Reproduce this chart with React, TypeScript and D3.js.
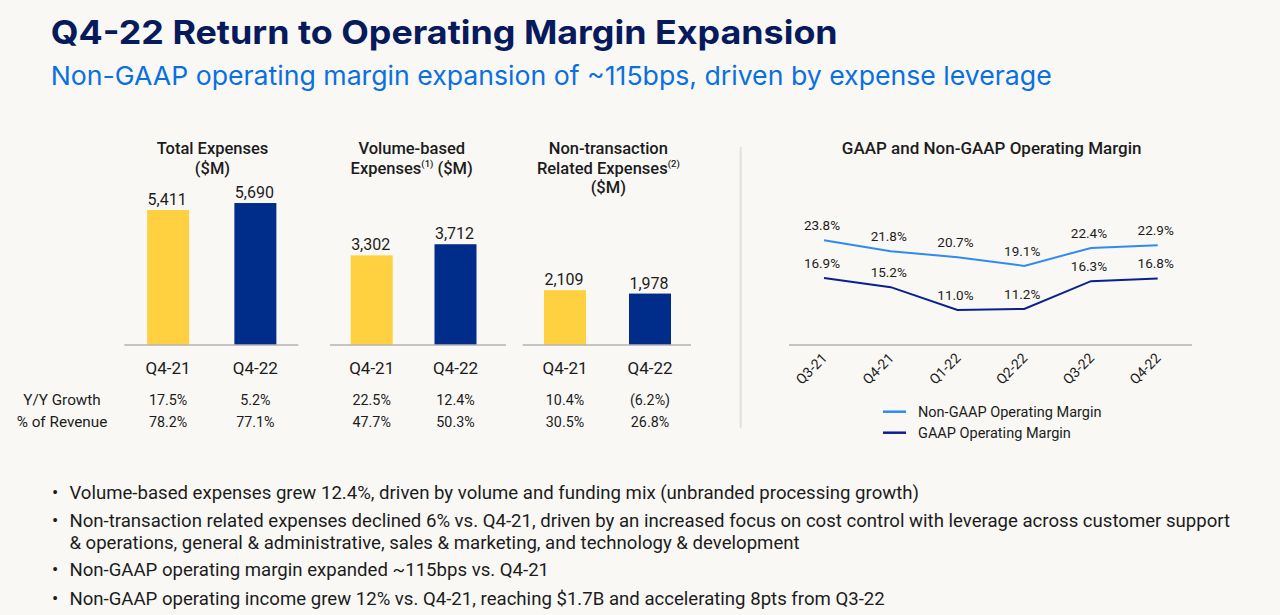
import React from "react";
import * as d3 from "d3";

// ---------- DATA ----------
const barCategories = ["Q4-21", "Q4-22"];
const totalExpenses = [5411, 5690];
const volumeExpenses = [3302, 3712];
const nonTxnExpenses = [2109, 1978];
const totalYoY = ["17.5%", "5.2%"];
const totalPctRev = ["78.2%", "77.1%"];
const volumeYoY = ["22.5%", "12.4%"];
const volumePctRev = ["47.7%", "50.3%"];
const nonTxnYoY = ["10.4%", "(6.2%)"];
const nonTxnPctRev = ["30.5%", "26.8%"];
const rowLabels = ["Y/Y Growth", "% of Revenue"];

const quarters = ["Q3-21", "Q4-21", "Q1-22", "Q2-22", "Q3-22", "Q4-22"];
const nonGaapMargin = [23.8, 21.8, 20.7, 19.1, 22.4, 22.9];
const gaapMargin = [16.9, 15.2, 11.0, 11.2, 16.3, 16.8];
const legendLabels = ["Non-GAAP Operating Margin", "GAAP Operating Margin"];

const titleText = "Q4-22 Return to Operating Margin Expansion";
const subtitleText = "Non-GAAP operating margin expansion of ~115bps, driven by expense leverage";
const lineChartTitle = "GAAP and Non-GAAP Operating Margin";
const bullets = [
  ["Volume-based expenses grew 12.4%, driven by volume and funding mix (unbranded processing growth)"],
  [
    "Non-transaction related expenses declined 6% vs. Q4-21, driven by an increased focus on cost control with leverage across customer support",
    "& operations, general & administrative, sales & marketing, and technology & development",
  ],
  ["Non-GAAP operating margin expanded ~115bps vs. Q4-21"],
  ["Non-GAAP operating income grew 12% vs. Q4-21, reaching $1.7B and accelerating 8pts from Q3-22"],
];

// ---------- STYLE ----------
const W = 1280;
const H = 615;
const BG = "#f9f8f5";
const NAVY_TITLE = "#061a5c";
const BLUE_SUB = "#0a70e0";
const YELLOW = "#ffd140";
const NAVY_BAR = "#012d8a";
const LIGHT_LINE = "#2e8bf0";
const DARK_LINE = "#0c1f8e";
const TEXT = "#1c1c1c";
const FONT = "Roboto, 'Liberation Sans', sans-serif";
const HEAD_FONT = "Inter, Roboto, sans-serif";

type Panel = {
  title: React.ReactNode[];
  titleX: number;
  values: number[];
  yoy: string[];
  pct: string[];
  bandRange: [number, number];
  baseRange: [number, number];
  maxH: number;
};

const BASE_Y = 345;

const panels: Panel[] = [
  {
    title: ["Total Expenses", "($M)"],
    titleX: 212.5,
    values: totalExpenses,
    yoy: totalYoY,
    pct: totalPctRev,
    bandRange: [124.5, 299],
    baseRange: [124.3, 298.3],
    maxH: 149.7,
  },
  {
    title: [
      "Volume-based",
      <>
        Expenses
        <tspan fontSize={9.5} dy={-7}>(1)</tspan>
        <tspan dy={7}> ($M)</tspan>
      </>,
    ],
    titleX: 411.7,
    values: volumeExpenses,
    yoy: volumeYoY,
    pct: volumePctRev,
    bandRange: [329.8, 497.4],
    baseRange: [330, 506],
    maxH: 162.9,
  },
  {
    title: [
      "Non-transaction",
      <>
        Related Expenses
        <tspan fontSize={9.5} dy={-7}>(2)</tspan>
      </>,
      "($M)",
    ],
    titleX: 608.3,
    values: nonTxnExpenses,
    yoy: nonTxnYoY,
    pct: nonTxnPctRev,
    bandRange: [522.5, 692.5],
    baseRange: [522.7, 691],
    maxH: 156,
  },
];

function BarPanel({ p }: { p: Panel }) {
  const x = d3.scaleBand<string>().domain(barCategories).range(p.bandRange).paddingInner(0.5).paddingOuter(0.25);
  const y = d3.scaleLinear().domain([0, 6000]).range([BASE_Y, BASE_Y - p.maxH]);
  const colors = [YELLOW, NAVY_BAR];
  const bw = 42;
  return (
    <g>
      {p.title.map((t, i) => (
        <text key={i} x={p.titleX} y={154 + i * 19.5} textAnchor="middle" fontSize={16.5} fontWeight={500} fill={TEXT}>
          {t}
        </text>
      ))}
      {barCategories.map((c, i) => {
        const cx = (x(c) as number) + x.bandwidth() / 2;
        const v = p.values[i];
        return (
          <g key={c}>
            <rect x={cx - bw / 2} y={y(v)} width={bw} height={y(0) - y(v)} fill={colors[i]} />
            <text x={cx - 1} y={y(v) - 5} textAnchor="middle" fontSize={16} fill={TEXT}>
              {d3.format(",")(v)}
            </text>
            <text x={cx} y={373.5} textAnchor="middle" fontSize={17} fill={TEXT}>
              {c}
            </text>
            <text x={cx} y={405} textAnchor="middle" fontSize={14.3} fill={TEXT}>
              {p.yoy[i]}
            </text>
            <text x={cx} y={426.7} textAnchor="middle" fontSize={14.3} fill={TEXT}>
              {p.pct[i]}
            </text>
          </g>
        );
      })}
      <line x1={p.baseRange[0]} x2={p.baseRange[1]} y1={BASE_Y} y2={BASE_Y} stroke="#b5b3b0" strokeWidth={1.5} />
    </g>
  );
}

function LineChart() {
  const x = d3.scalePoint<string>().domain(quarters).range([824, 1157.7]);
  const y = d3.scaleLinear().domain([0, 30]).range([370, 206.5]);
  const line = d3
    .line<number>()
    .x((_, i) => x(quarters[i]) as number)
    .y((d) => y(d));
  const series = [
    { vals: nonGaapMargin, color: LIGHT_LINE },
    { vals: gaapMargin, color: DARK_LINE },
  ];
  return (
    <g>
      <text x={991.7} y={154} textAnchor="middle" fontSize={17} fontWeight={500} fill={TEXT}>
        {lineChartTitle}
      </text>
      <line x1={789} x2={1192} y1={BASE_Y} y2={BASE_Y} stroke="#b5b3b0" strokeWidth={1.5} />
      {series.map((s, si) => (
        <g key={si}>
          <path d={line(s.vals) || ""} fill="none" stroke={s.color} strokeWidth={2} />
          {s.vals.map((v, i) => (
            <text key={i} x={(x(quarters[i]) as number) - 2} y={y(v) - 10} textAnchor="middle" fontSize={13.5} fill={TEXT}>
              {d3.format(".1f")(v) + "%"}
            </text>
          ))}
        </g>
      ))}
      {quarters.map((q) => {
        const qx = (x(q) as number) + 4;
        const qy = 359;
        return (
          <text key={q} x={qx} y={qy} textAnchor="end" fontSize={14} fill={TEXT} transform={`rotate(-45 ${qx} ${qy})`}>
            {q}
          </text>
        );
      })}
      {legendLabels.map((l, i) => (
        <g key={l}>
          <line x1={883} x2={906} y1={411.7 + i * 21} y2={411.7 + i * 21} stroke={series[i].color} strokeWidth={2.5} />
          <text x={918} y={416.8 + i * 21} fontSize={14.5} fill={TEXT}>
            {l}
          </text>
        </g>
      ))}
    </g>
  );
}

export default function App() {
  const BULLET_FS = 18.6;
  const WRAP_GAP = 22.2;
  let lineY = 499.3;
  const bulletBlocks: { lines: string[]; y: number }[] = [];
  bullets.forEach((b) => {
    const shift = b.length > 1 ? -1.6 : 0;
    bulletBlocks.push({ lines: b, y: lineY + shift });
    lineY += (b.length - 1) * 19 + 29;
  });
  return (
    <div style={{ position: "absolute", left: 0, top: 0 }}>
      <svg width={W} height={H} style={{ display: "block", fontFamily: FONT }}>
        <rect width={W} height={H} fill={BG} />
        <text
          x={50.7}
          y={44.3}
          fontSize={33}
          fontWeight={700}
          fill={NAVY_TITLE}
          fontFamily={HEAD_FONT}
          textLength={787}
          lengthAdjust="spacingAndGlyphs"
        >
          {titleText}
        </text>
        <text
          x={50.7}
          y={85.3}
          fontSize={26}
          fill={BLUE_SUB}
          fontFamily={HEAD_FONT}
          textLength={1001}
          lengthAdjust="spacingAndGlyphs"
        >
          {subtitleText}
        </text>
        {panels.map((p, i) => (
          <BarPanel key={i} p={p} />
        ))}
        {rowLabels.map((r, i) => (
          <text key={r} x={62} y={405 + i * 21.7} textAnchor="middle" fontSize={15.3} fill={TEXT}>
            {r}
          </text>
        ))}
        <line x1={740.7} x2={740.7} y1={147} y2={428} stroke="#e3e1dd" strokeWidth={2} />
        <LineChart />
        {bulletBlocks.map((b, i) => (
          <g key={i}>
            <text x={52} y={b.y} fontSize={BULLET_FS} fill={TEXT}>
              •
            </text>
            <text x={69.4} y={b.y} fontSize={BULLET_FS} fill={TEXT}>
              {b.lines.map((t, ti) => (
                <tspan key={ti} x={69.4} dy={ti === 0 ? 0 : WRAP_GAP}>
                  {t}
                </tspan>
              ))}
            </text>
          </g>
        ))}
      </svg>
    </div>
  );
}
